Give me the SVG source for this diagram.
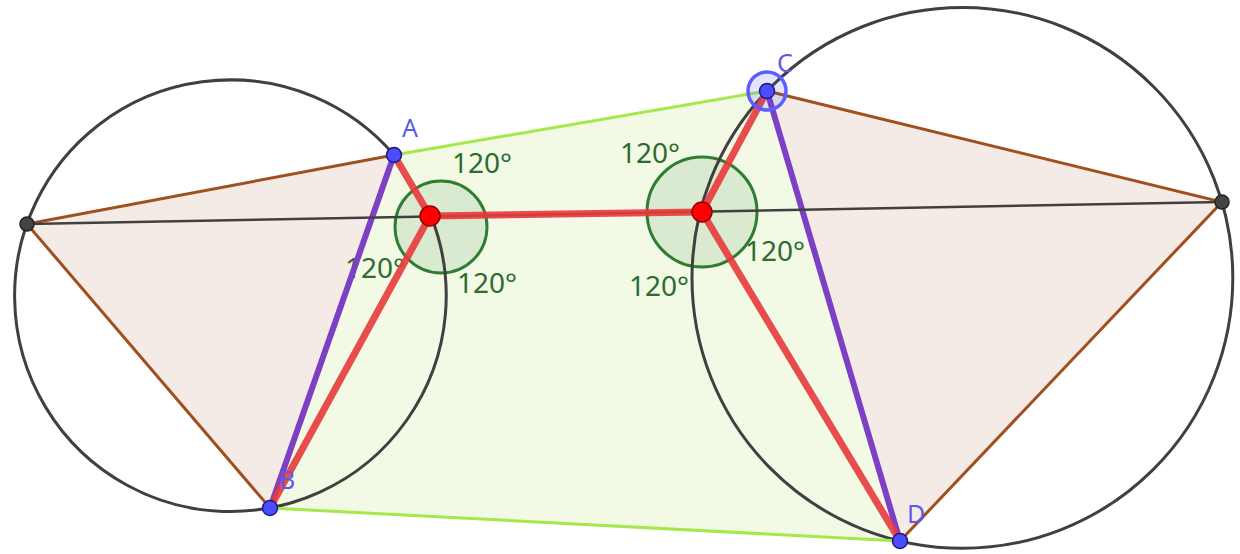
<svg xmlns="http://www.w3.org/2000/svg" width="1240" height="554" viewBox="0 0 1240 554">
<style>
.tri{fill:#f5ebe6;stroke:none}
.brown{stroke:#a0501e;stroke-width:3;fill:none}
.green{stroke:#a4e84a;stroke-width:3;fill:none}
.purple{stroke:#7d3fc4;stroke-width:6;fill:none;stroke-linecap:round}
.red{stroke:#e83a3a;stroke-width:7;fill:none;stroke-linecap:round;stroke-opacity:0.9}
.circ{stroke:#404040;stroke-width:3;fill:none}
.blk{stroke:#404040;stroke-width:2.5;fill:none}
.ang{fill:#2e7d32;fill-opacity:0.12;stroke:#2e7d32;stroke-width:3}
.deg{font-family:"Noto Sans","Open Sans",sans-serif;font-size:28px;fill:#2e6b2e}
.lbl{font-family:"Noto Sans","Open Sans",sans-serif;font-size:25px;fill:#5a5ae6}
.bpt{fill:#4d4dff;stroke:#1a1a80;stroke-width:1.5}
.rpt{fill:#ff0000;stroke:#900000;stroke-width:1.5}
.gpt{fill:#444;stroke:#222;stroke-width:1.5}
</style>
<rect width="1240" height="554" fill="#ffffff"/>
<g id="fills">
<polygon points="394,155 767,91 900,541 270,508" fill="#f2fae6"/>
<polygon class="tri" points="27,224 394,155 270,508"/>
<polygon class="tri" points="767,91 1222,202 900,541"/>
</g>
<g id="angles">
<circle class="ang" cx="441" cy="227" r="46"/>
<circle class="ang" cx="702" cy="212" r="55"/>
</g>
<g id="angle-labels">
<text class="deg" x="452" y="173">120°</text>
<text class="deg" x="457" y="293">120°</text>
<text class="deg" x="345" y="278">120°</text>
<text class="deg" x="620" y="163">120°</text>
<text class="deg" x="745" y="261">120°</text>
<text class="deg" x="629" y="296">120°</text>
</g>
<g id="connectors">
<path class="circ" d="M394 155 A215.8 215.8 0 1 0 431.1 216.4"/>
<circle class="circ" cx="962.4" cy="277.9" r="270.4"/>
<polyline class="brown" points="394,155 27,224 270,508"/>
<polyline class="brown" points="767,91 1222,202 900,541"/>
<line class="green" x1="394" y1="155" x2="767" y2="91"/>
<line class="green" x1="270" y1="508" x2="900" y2="541"/>
<line class="purple" x1="394" y1="155" x2="270" y2="508"/>
<line class="purple" x1="767" y1="91" x2="900" y2="541"/>
<line class="blk" x1="27" y1="224" x2="1222" y2="202"/>
<line class="red" x1="430" y1="216" x2="394" y2="155"/>
<line class="red" x1="430" y1="216" x2="270" y2="508"/>
<line class="red" x1="430" y1="216" x2="702" y2="212"/>
<line class="red" x1="702" y1="212" x2="767" y2="91"/>
<line class="red" x1="702" y1="212" x2="900" y2="541"/>
</g>
<g id="node-L"><circle class="gpt" cx="27" cy="224" r="7"/></g>
<g id="node-R"><circle class="gpt" cx="1222" cy="202" r="7"/></g>
<g id="node-F1"><circle class="rpt" cx="430" cy="216" r="10"/></g>
<g id="node-F2"><circle class="rpt" cx="702" cy="212" r="10"/></g>
<g id="node-A"><circle class="bpt" cx="394" cy="155" r="7.5"/><text class="lbl" x="402" y="137">A</text></g>
<g id="node-B"><circle class="bpt" cx="270" cy="508" r="7.5"/><text class="lbl" x="279" y="489">B</text></g>
<g id="node-C"><circle cx="767" cy="91" r="19" fill="#4d4dff" fill-opacity="0.15" stroke="#5c5cff" stroke-width="3.5"/><circle class="bpt" cx="767" cy="91" r="7.5"/><text class="lbl" x="777" y="72">C</text></g>
<g id="node-D"><circle class="bpt" cx="900" cy="541" r="7.5"/><text class="lbl" x="907" y="523">D</text></g>
</svg>
